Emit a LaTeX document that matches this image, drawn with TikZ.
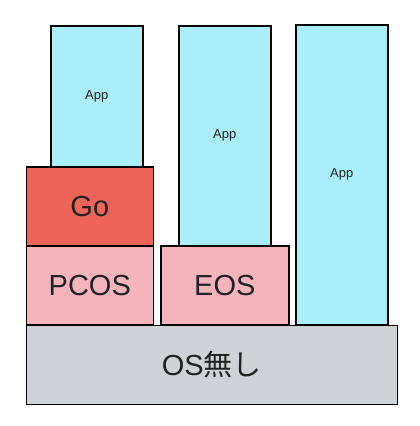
\documentclass[tikz,border=0pt]{standalone}
\usepackage{fontspec}
\setmainfont{Liberation Sans}
\newfontfamily\cjk{Noto Sans CJK JP}
\definecolor{appc}{HTML}{AAEEFA}
\definecolor{goc}{HTML}{EE6458}
\definecolor{osc}{HTML}{F4B4BC}
\definecolor{basec}{HTML}{CFD2D6}
\definecolor{txt}{HTML}{222222}
\newcommand{\lowr}[1]{\raisebox{-2pt}{#1}}
\begin{document}
\begin{tikzpicture}[x=1pt,y=1pt,
  blk/.style={draw=black, line width=1.6pt, anchor=north west, inner sep=0pt, text=txt},
  app/.style={blk, fill=appc, font=\fontsize{13}{15}\selectfont},
  big/.style={font=\fontsize{29}{33}\selectfont}]
\useasboundingbox (0,0) rectangle (420,-426);
\node[app, minimum width=92pt, minimum height=141pt] (app1) at (50,-25) {\lowr{App}};
\node[app, minimum width=92pt, minimum height=220pt] (app2) at (178,-25) {\lowr{App}};
\node[app, minimum width=92pt, minimum height=300pt] (app3) at (295,-24) {\lowr{App}};
\node[blk, big, fill=goc, minimum width=127pt, minimum height=79pt] (go) at (25.5,-166) {\lowr{Go}};
\node[blk, big, fill=osc, minimum width=127pt, minimum height=79pt] (pcos) at (25.5,-245) {\lowr{PCOS}};
\node[blk, big, fill=osc, minimum width=128pt, minimum height=79pt] (eos) at (160,-245) {\lowr{EOS}};
\node[blk, big, fill=basec, minimum width=371pt, minimum height=79pt] (base) at (25.5,-324.5) {\lowr{OS{\cjk 無し}}};
\end{tikzpicture}
\end{document}
